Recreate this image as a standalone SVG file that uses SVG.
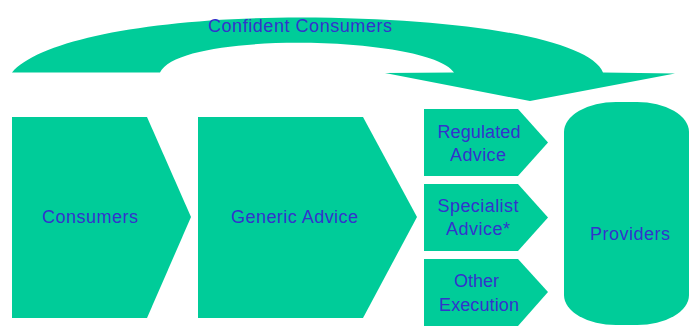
<svg xmlns="http://www.w3.org/2000/svg" width="690" height="326" viewBox="0 0 690 326">
  <style>
    .shape { fill: #00cc99; stroke: none; }
    .label { font-family: "Liberation Sans", Arial, sans-serif; font-size: 18px; fill: #3333cc; text-anchor: middle; }
  </style>
  <rect width="690" height="326" fill="#ffffff"/>

  <!-- curved arrow from consumers over to providers -->
  <g id="connectors">
    <path class="shape" d="M12,72.5 C40,40 150,18 300,17.5 C470,18 590,40 603,72.5 L675,73.5 L530,101 L385,73 L454,72.5 C430,36 180,30 160,72.5 Z"/>
    <text class="label" x="300" y="32" textLength="184" lengthAdjust="spacing">Confident Consumers</text>
  </g>

  <g id="consumers">
    <polygon class="shape" points="12,117 147,117 191,217 147,318 12,318"/>
    <text class="label" x="90" y="223" textLength="96" lengthAdjust="spacing">Consumers</text>
  </g>

  <g id="generic-advice">
    <polygon class="shape" points="198,117 363,117 417,217 363,318 198,318"/>
    <text class="label" x="294.5" y="223" textLength="127" lengthAdjust="spacing">Generic Advice</text>
  </g>

  <g id="regulated-advice">
    <polygon class="shape" points="424,109 518,109 548,142.5 518,176 424,176"/>
    <text class="label" x="479" y="138" textLength="83" lengthAdjust="spacing">Regulated</text>
    <text class="label" x="478" y="161" textLength="56" lengthAdjust="spacing">Advice</text>
  </g>

  <g id="specialist-advice">
    <polygon class="shape" points="424,184 518,184 548,217.5 518,251 424,251"/>
    <text class="label" x="478" y="212" textLength="81" lengthAdjust="spacing">Specialist</text>
    <text class="label" x="478" y="235" textLength="64" lengthAdjust="spacing">Advice*</text>
  </g>

  <g id="other-execution">
    <polygon class="shape" points="424,259 518,259 548,292 518,326 424,326"/>
    <text class="label" x="476.5" y="287" textLength="45" lengthAdjust="spacing">Other</text>
    <text class="label" x="479" y="311" textLength="80" lengthAdjust="spacing">Execution</text>
  </g>

  <g id="providers">
    <rect class="shape" x="564" y="102" width="125" height="223" rx="52" ry="30"/>
    <text class="label" x="630" y="240" textLength="80" lengthAdjust="spacing">Providers</text>
  </g>
</svg>
